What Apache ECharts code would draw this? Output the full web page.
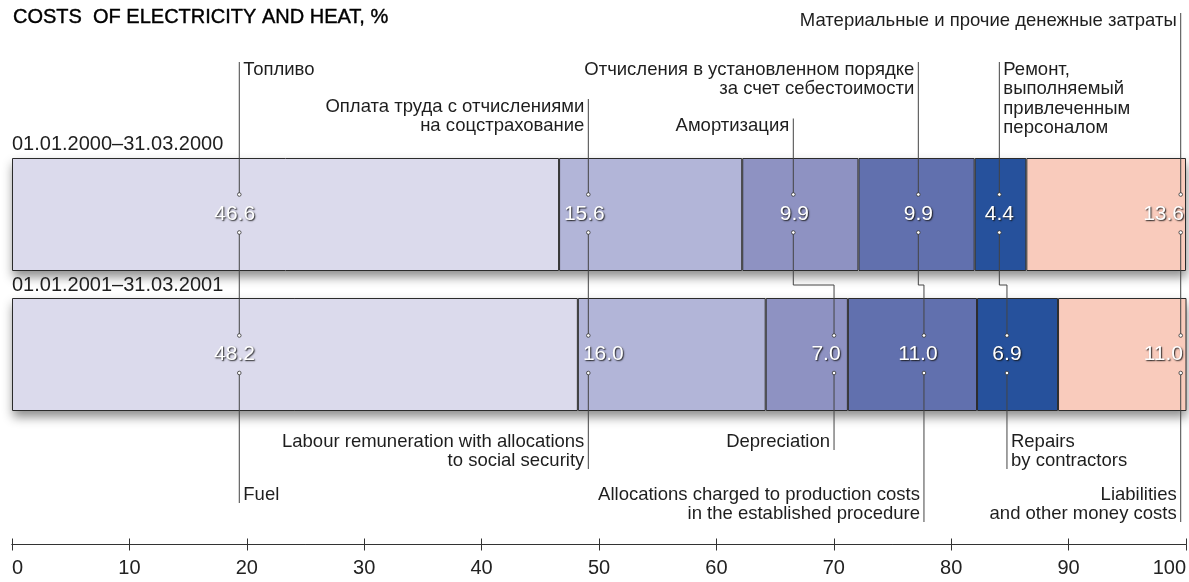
<!DOCTYPE html>
<html><head><meta charset="utf-8">
<script src="https://cdn.jsdelivr.net/npm/echarts@6/dist/echarts.min.js"></script>
<style>html,body{margin:0;padding:0;background:#fff}#c{width:1189px;height:582px}</style>
</head><body><div id="c"></div>
<script>
// ---------- data ----------
const chartTitle = 'COSTS  OF ELECTRICITY AND HEAT, %';
const periods = ['01.01.2000–31.03.2000', '01.01.2001–31.03.2001'];
const itemsRu = [
  'Топливо',
  'Оплата труда с отчислениями\nна соцстрахование',
  'Амортизация',
  'Отчисления в установленном порядке\nза счет себестоимости',
  'Ремонт,\nвыполняемый\nпривлеченным\nперсоналом',
  'Материальные и прочие денежные затраты'
];
const itemsEn = [
  'Fuel',
  'Labour remuneration with allocations\nto social security',
  'Depreciation',
  'Allocations charged to production costs\nin the established procedure',
  'Repairs\nby contractors',
  'Liabilities\nand other money costs'
];
const values2000 = [46.6, 15.6, 9.9, 9.9, 4.4, 13.6];
const values2001 = [48.2, 16.0, 7.0, 11.0, 6.9, 11.0];
// leader-line anchors, in axis units (%)
const leader2000 = [19.36, 49.09, 66.55, 77.20, 84.10, 99.55];
const leader2001 = [19.36, 49.09, 70.02, 77.68, 84.75, 99.55];
const axisMin = 0, axisMax = 100, axisStep = 10;

// ---------- styles / layout ----------
const colors = ['#dbdaec', '#b2b5d8', '#8e92c2', '#6170ae', '#26519c', '#f9cbbc'];
const FONT = '"Liberation Sans", Arial, Helvetica, sans-serif';
const annot = [
  {ruY: 60,    ruSide: 'right', enY: 505, enSide: 'right', dx0: -4.6, dx1: -4.8},
  {ruY: 97,    ruSide: 'left',  enY: 471, enSide: 'left',  dx0: -4,   dx1: 15},
  {ruY: 116.5, ruSide: 'left',  enY: 452, enSide: 'left',  dx0: 1,    dx1: -8},
  {ruY: 60,    ruSide: 'left',  enY: 524, enSide: 'left',  dx0: 0,    dx1: -6},
  {ruY: 60,    ruSide: 'right', enY: 471, enSide: 'right', dx0: 0,    dx1: 0},
  {ruY: 11,    ruSide: 'left',  enY: 524, enSide: 'left',  alignEnd: true}
];
const BAR_H = 113;
const LINE = '#444';

const barSeries = colors.map((c, i) => ({
  type: 'bar',
  stack: 'total',
  barWidth: BAR_H,
  data: [values2000[i], values2001[i]],
  itemStyle: {color: c, borderColor: '#2b2b2b', borderWidth: 1},
  emphasis: {disabled: true},
  silent: true,
  z: 2
}));

function dot(x, y) {
  return {type: 'circle', shape: {cx: x, cy: y, r: 1.8}, style: {fill: '#fff', stroke: '#333', lineWidth: 0.8}, z2: 5};
}
function valText(txt, x, y, align) {
  return {type: 'text', z2: 6, style: {
    text: txt, x: x, y: y, align: align, verticalAlign: 'middle',
    fontSize: 21, fontFamily: FONT, fill: '#fff',
    textShadowColor: 'rgba(20,20,20,0.95)', textShadowBlur: 1.5, textShadowOffsetX: 1, textShadowOffsetY: 1
  }};
}
function annText(txt, x, y, align, vAlign) {
  return {type: 'text', z2: 6, style: {
    text: txt, x: x, y: y, align: align, verticalAlign: vAlign,
    fontSize: 18.5, lineHeight: 19.5, fontFamily: FONT, fill: '#1e1e1e'
  }};
}

// soft drop shadow under each whole bar
function renderShadow(params, api) {
  const k = api.value(0);
  const a = api.coord([axisMin, k]);
  const b = api.coord([axisMax, k]);
  return {type: 'rect', shape: {x: a[0], y: a[1] - BAR_H / 2, width: b[0] - a[0], height: BAR_H},
    style: {fill: '#fff', shadowColor: 'rgba(0,0,0,0.45)', shadowBlur: 10, shadowOffsetX: 1, shadowOffsetY: 6}};
}

function renderItem(params, api) {
  const i = api.value(0);
  const a = annot[i];
  const p0 = api.coord([leader2000[i], 0]);
  const p1 = api.coord([leader2001[i], 1]);
  const xt = p0[0], yc0 = p0[1], xb = p1[0], yc1 = p1[1];
  const right = api.coord([axisMax, 0])[0];
  const gapY = (yc0 + yc1) / 2 + 0.5;
  const children = [];
  const ls = {stroke: LINE, lineWidth: 1, fill: null};
  children.push({type: 'line', shape: {x1: xt, y1: a.ruY + 2, x2: xt, y2: yc0 - 20}, style: ls});
  children.push({type: 'polyline', shape: {points: [[xt, yc0 + 18], [xt, gapY], [xb, gapY], [xb, yc1 - 19]]}, style: ls});
  children.push({type: 'line', shape: {x1: xb, y1: yc1 + 18.5, x2: xb, y2: a.enY - 2}, style: ls});
  children.push(dot(xt, yc0 - 20), dot(xt, yc0 + 18), dot(xb, yc1 - 19), dot(xb, yc1 + 18.5));
  if (a.alignEnd) {
    children.push(valText(values2000[i].toFixed(1), right - 2, yc0, 'right'));
    children.push(valText(values2001[i].toFixed(1), right - 3, yc1, 'right'));
  } else {
    children.push(valText(values2000[i].toFixed(1), xt + a.dx0, yc0, 'center'));
    children.push(valText(values2001[i].toFixed(1), xb + a.dx1, yc1, 'center'));
  }
  const ruX = a.ruSide === 'right' ? xt + 4 : xt - 4;
  children.push(annText(itemsRu[i], ruX, a.ruY, a.ruSide === 'right' ? 'left' : 'right', 'top'));
  const enX = a.enSide === 'right' ? xb + 4 : xb - 4;
  children.push(annText(itemsEn[i], enX, a.enY, a.enSide === 'right' ? 'left' : 'right', 'bottom'));
  if (i === 0) {
    const l0 = api.coord([axisMin, 0]);
    const l1 = api.coord([axisMin, 1]);
    children.push({type: 'text', z2: 6, style: {text: periods[0], x: l0[0], y: l0[1] - BAR_H / 2 - 3.5, align: 'left', verticalAlign: 'bottom', fontSize: 20, fontFamily: FONT, fill: '#1e1e1e'}});
    children.push({type: 'text', z2: 6, style: {text: periods[1], x: l1[0], y: l1[1] - BAR_H / 2 - 2.5, align: 'left', verticalAlign: 'bottom', fontSize: 20, fontFamily: FONT, fill: '#1e1e1e'}});
  }
  return {type: 'group', children: children};
}

const axisCommon = {
  type: 'value', min: axisMin, max: axisMax, interval: axisStep,
  position: 'bottom', offset: 120,
  splitLine: {show: false},
  axisLine: {show: true, lineStyle: {color: '#333', width: 1}}
};

const option = {
  animation: false,
  backgroundColor: '#fff',
  title: {
    text: chartTitle, left: 8, top: 2,
    textStyle: {fontSize: 20, fontWeight: 'normal', color: '#000', fontFamily: FONT, textBorderColor: '#000', textBorderWidth: 0.4}
  },
  grid: {left: 12, right: 3, top: 144.5, bottom: 157.5, containLabel: false},
  xAxis: [
    Object.assign({}, axisCommon, {
      axisTick: {show: true, length: 6, inside: false, lineStyle: {color: '#333'}},
      axisLabel: {show: true, fontSize: 20, color: '#222', margin: 14, fontFamily: FONT, alignMinLabel: 'left', alignMaxLabel: 'right'}
    }),
    Object.assign({}, axisCommon, {
      axisTick: {show: true, length: 6, inside: true, lineStyle: {color: '#333'}},
      axisLabel: {show: false}
    })
  ],
  yAxis: {type: 'category', data: periods, inverse: true, show: false},
  series: [{
    type: 'custom',
    renderItem: renderShadow,
    data: periods.map((_, k) => [k]),
    encode: {y: 0},
    silent: true,
    clip: false,
    z: 1
  }].concat(barSeries).concat([{
    type: 'custom',
    renderItem: renderItem,
    data: itemsRu.map((_, i) => [i]),
    encode: {x: 0},
    silent: true,
    clip: false,
    z: 5
  }])
};

const chart = echarts.init(document.getElementById('c'), null, {renderer: 'canvas'});
chart.setOption(option);
</script>
</body></html>
